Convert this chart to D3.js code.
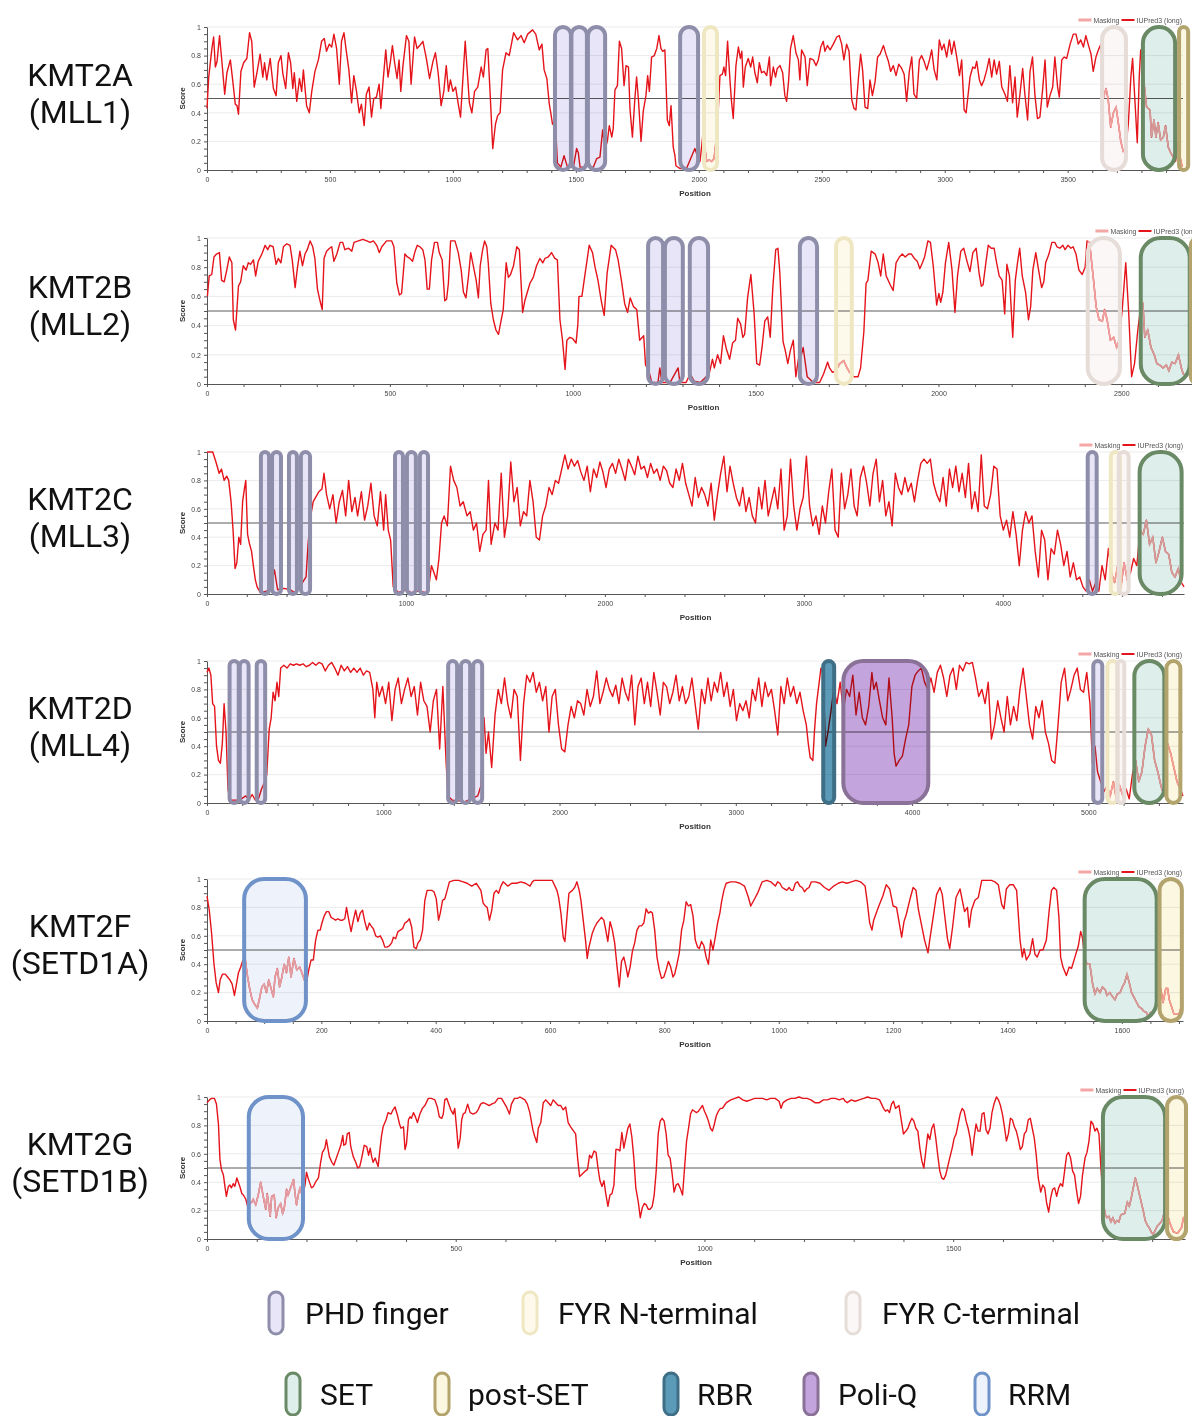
<!DOCTYPE html>
<html>
<head>
<meta charset="utf-8">
<script src="https://cdn.jsdelivr.net/npm/d3@7"></script>
<style>
  body { margin: 0; background: #fff; }
  svg { display: block; }
</style>
</head>
<body>
<div id="content"></div>
<script>
// IUPred3 (long) disorder scores, [position, score].
var kmt2aScore = [[0,.43],[7,.65],[20,.85],[27,.93],[34,.72],[41,.76],[51,.94],[61,.75],[72,.53],[81,.68],[95,.77],[105,.62],[115,.46],[122,.45],[128,.39],[138,.69],[149,.75],[162,.78],[173,.96],[182,.90],[192,.58],[203,.68],[216,.81],[227,.65],[234,.75],[243,.63],[257,.78],[270,.57],[281,.52],[290,.75],[301,.80],[308,.68],[320,.57],[331,.82],[340,.75],[349,.57],[355,.68],[365,.48],[376,.64],[385,.55],[392,.70],[405,.45],[416,.40],[426,.55],[439,.69],[453,.77],[466,.90],[477,.92],[486,.83],[497,.88],[507,.86],[516,.95],[527,.85],[538,.60],[547,.90],[557,.96],[565,.85],[577,.70],[588,.47],[597,.66],[608,.55],[619,.40],[628,.46],[639,.31],[648,.53],[659,.58],[669,.37],[678,.50],[689,.51],[700,.60],[707,.43],[716,.62],[727,.84],[736,.65],[746,.76],[754,.87],[763,.75],[773,.64],[781,.77],[788,.55],[797,.73],[811,.94],[821,.90],[830,.60],[844,.93],[854,.85],[865,.87],[878,.90],[892,.78],[905,.64],[919,.76],[929,.82],[940,.68],[952,.45],[963,.55],[973,.73],[982,.55],[990,.63],[1000,.55],[1011,.58],[1021,.47],[1031,.37],[1040,.62],[1050,.90],[1058,.70],[1067,.47],[1077,.40],[1088,.55],[1101,.58],[1115,.72],[1124,.65],[1135,.84],[1142,.85],[1151,.55],[1162,.15],[1173,.32],[1182,.38],[1192,.40],[1202,.70],[1216,.82],[1229,.80],[1247,.96],[1263,.91],[1277,.94],[1290,.89],[1304,.95],[1324,.98],[1337,.95],[1351,.84],[1362,.88],[1371,.70],[1382,.64],[1392,.46],[1398,.40],[1405,.32],[1416,.36],[1425,.05],[1439,.02],[1452,.10],[1466,.02],[1474,.02],[1490,.02],[1503,.15],[1510,.12],[1517,.02],[1537,.02],[1547,.12],[1558,.02],[1571,.02],[1585,.08],[1598,.09],[1609,.28],[1619,.15],[1628,.20],[1636,.31],[1646,.23],[1652,.29],[1659,.56],[1669,.59],[1677,.90],[1686,.85],[1696,.59],[1704,.73],[1714,.72],[1720,.43],[1730,.23],[1740,.50],[1747,.65],[1755,.48],[1765,.20],[1774,.41],[1785,.52],[1792,.66],[1799,.55],[1808,.79],[1819,.80],[1829,.85],[1838,.94],[1846,.85],[1853,.83],[1862,.84],[1872,.35],[1880,.31],[1887,.45],[1896,.16],[1903,.10],[1907,.03],[1924,.01],[1950,.01],[1984,.15],[1994,.10],[2005,.06],[2016,.24],[2025,.15],[2032,.06],[2043,.07],[2052,.06],[2062,.08],[2070,.20],[2078,.38],[2086,.66],[2096,.67],[2102,.72],[2109,.66],[2117,.90],[2127,.62],[2133,.48],[2140,.36],[2151,.73],[2161,.86],[2169,.78],[2175,.83],[2181,.58],[2189,.72],[2201,.78],[2211,.72],[2219,.79],[2228,.68],[2238,.61],[2246,.75],[2255,.68],[2265,.69],[2276,.66],[2287,.79],[2292,.59],[2303,.72],[2312,.65],[2319,.71],[2330,.73],[2341,.68],[2350,.52],[2357,.48],[2365,.62],[2373,.85],[2384,.94],[2395,.82],[2405,.77],[2411,.63],[2418,.84],[2432,.79],[2441,.59],[2452,.78],[2466,.77],[2477,.73],[2486,.77],[2496,.86],[2506,.90],[2513,.83],[2523,.87],[2534,.84],[2547,.88],[2561,.93],[2571,.94],[2581,.88],[2590,.77],[2601,.88],[2611,.83],[2622,.49],[2631,.43],[2639,.42],[2649,.64],[2658,.81],[2666,.70],[2676,.44],[2687,.43],[2696,.63],[2706,.52],[2717,.62],[2727,.79],[2737,.81],[2751,.87],[2761,.81],[2771,.76],[2780,.69],[2791,.73],[2802,.66],[2813,.74],[2825,.71],[2835,.67],[2845,.48],[2856,.69],[2866,.79],[2875,.53],[2886,.50],[2897,.77],[2906,.80],[2916,.76],[2927,.70],[2938,.77],[2947,.84],[2957,.70],[2968,.63],[2978,.91],[2988,.84],[2997,.88],[3008,.79],[3019,.91],[3028,.81],[3038,.90],[3049,.79],[3060,.66],[3069,.77],[3079,.42],[3087,.40],[3094,.51],[3103,.65],[3114,.72],[3123,.71],[3130,.76],[3141,.63],[3150,.59],[3160,.63],[3171,.70],[3181,.78],[3191,.65],[3201,.77],[3211,.67],[3222,.76],[3232,.58],[3245,.53],[3255,.48],[3265,.73],[3276,.47],[3286,.65],[3295,.37],[3306,.53],[3317,.71],[3326,.53],[3337,.35],[3347,.69],[3357,.79],[3367,.52],[3377,.36],[3387,.37],[3398,.56],[3408,.77],[3417,.44],[3428,.52],[3439,.58],[3448,.79],[3459,.58],[3466,.51],[3476,.77],[3486,.79],[3496,.78],[3510,.88],[3523,.95],[3534,.95],[3543,.88],[3553,.91],[3564,.86],[3574,.94],[3585,.87],[3595,.81],[3604,.69],[3615,.79],[3625,.84],[3635,.88],[3645,.50],[3656,.57],[3665,.49],[3675,.30],[3686,.40],[3697,.44],[3706,.33],[3716,.20],[3726,.13],[3737,.16],[3747,.33],[3757,.65],[3764,.78],[3774,.47],[3783,.19],[3791,.65],[3797,.84],[3808,.65],[3821,.44],[3835,.42],[3841,.23],[3851,.35],[3859,.23],[3868,.33],[3878,.21],[3889,.23],[3898,.31],[3909,.16],[3919,.12],[3930,.09],[3939,.06],[3947,.19],[3957,.09],[3966,.02]];

var kmt2bScore = [[1,.60],[6,.74],[13,.75],[19,.87],[26,.89],[34,.90],[40,.71],[47,.70],[54,.78],[61,.87],[68,.83],[72,.44],[78,.37],[86,.67],[92,.70],[99,.81],[107,.78],[113,.83],[119,.82],[127,.85],[133,.74],[140,.84],[150,.89],[159,.95],[166,.92],[172,.95],[181,.94],[189,.82],[195,.86],[202,.83],[209,.94],[218,.96],[227,.95],[233,.85],[241,.66],[247,.79],[254,.91],[261,.81],[268,.89],[274,.92],[282,.98],[289,.94],[295,.86],[302,.65],[309,.57],[315,.51],[320,.86],[327,.91],[335,.93],[341,.94],[347,.84],[355,.89],[364,.97],[371,.97],[377,.92],[387,.93],[396,.91],[402,.97],[414,.98],[426,.99],[437,.98],[446,.97],[455,.98],[464,.95],[471,.90],[478,.94],[491,.98],[505,.98],[511,.94],[519,.69],[526,.61],[532,.62],[541,.89],[548,.87],[555,.86],[562,.84],[569,.91],[575,.95],[582,.94],[590,.92],[596,.85],[602,.65],[608,.65],[614,.85],[622,.97],[630,.97],[635,.90],[643,.85],[650,.57],[655,.58],[660,.69],[666,.98],[678,.98],[687,.90],[695,.78],[701,.63],[708,.59],[715,.74],[721,.90],[728,.81],[736,.71],[742,.59],[747,.81],[753,.91],[759,.98],[765,.94],[769,.83],[776,.55],[783,.44],[790,.37],[797,.34],[803,.42],[810,.51],[818,.83],[824,.73],[830,.75],[838,.81],[847,.94],[854,.92],[863,.49],[869,.57],[876,.63],[883,.69],[892,.73],[901,.81],[910,.86],[918,.83],[924,.86],[933,.87],[942,.90],[951,.86],[958,.85],[965,.44],[972,.30],[979,.10],[984,.30],[992,.32],[1000,.31],[1009,.28],[1014,.41],[1017,.60],[1025,.60],[1034,.76],[1045,.95],[1054,.90],[1061,.80],[1069,.71],[1078,.57],[1086,.47],[1094,.76],[1105,.95],[1117,.92],[1124,.85],[1133,.71],[1142,.55],[1150,.49],[1157,.59],[1166,.53],[1175,.51],[1183,.30],[1194,.33],[1199,.13],[1208,.09],[1216,.01],[1233,.01],[1238,.11],[1244,.01],[1266,.01],[1288,.11],[1293,.01],[1310,.01],[1321,.07],[1332,.02],[1349,.01],[1365,.05],[1374,.08],[1382,.17],[1387,.11],[1396,.20],[1404,.14],[1412,.33],[1420,.24],[1429,.17],[1437,.28],[1445,.30],[1451,.45],[1459,.41],[1465,.32],[1470,.34],[1478,.59],[1487,.75],[1496,.48],[1503,.14],[1511,.13],[1518,.26],[1525,.43],[1533,.46],[1540,.32],[1547,.66],[1555,.92],[1561,.93],[1566,.77],[1575,.29],[1581,.23],[1588,.14],[1595,.23],[1603,.30],[1610,.05],[1617,.17],[1625,.20],[1630,.25],[1641,.05],[1658,.01],[1675,.01],[1686,.07],[1697,.15],[1702,.11],[1710,.08],[1719,.09],[1730,.14],[1741,.16],[1750,.11],[1757,.08],[1768,.05],[1780,.05],[1787,.11],[1796,.36],[1802,.69],[1807,.71],[1816,.91],[1827,.89],[1835,.83],[1842,.74],[1849,.89],[1857,.74],[1868,.68],[1876,.64],[1884,.83],[1893,.87],[1901,.89],[1909,.87],[1918,.89],[1926,.89],[1934,.86],[1942,.84],[1949,.79],[1956,.83],[1962,.87],[1971,.98],[1978,.97],[1986,.80],[1995,.54],[2001,.62],[2006,.56],[2012,.63],[2019,.83],[2028,.97],[2037,.78],[2045,.49],[2052,.74],[2061,.91],[2069,.93],[2078,.84],[2086,.77],[2094,.90],[2103,.93],[2111,.76],[2117,.67],[2122,.68],[2130,.84],[2136,.95],[2144,.93],[2152,.93],[2159,.83],[2166,.74],[2174,.71],[2181,.48],[2187,.82],[2194,.74],[2203,.32],[2210,.71],[2216,.83],[2222,.93],[2229,.74],[2238,.63],[2246,.44],[2252,.53],[2258,.78],[2266,.90],[2273,.79],[2282,.66],[2288,.70],[2293,.83],[2302,.89],[2310,.97],[2318,.97],[2324,.94],[2332,.93],[2340,.95],[2346,.92],[2354,.95],[2362,.93],[2368,.94],[2376,.89],[2384,.78],[2393,.75],[2401,.80],[2406,.98],[2413,.97],[2424,.71],[2431,.53],[2439,.44],[2448,.43],[2454,.51],[2461,.44],[2470,.30],[2479,.32],[2487,.25],[2494,.30],[2503,.53],[2512,.83],[2520,.49],[2528,.05],[2536,.14],[2545,.37],[2553,.53],[2559,.55],[2564,.32],[2572,.37],[2581,.25],[2590,.20],[2597,.14],[2605,.13],[2614,.11],[2623,.13],[2630,.09],[2638,.15],[2647,.14],[2656,.20],[2664,.11],[2669,.07],[2678,.05],[2686,.08],[2694,.02],[2700,.10],[2715,.05]];

var kmt2cScore = [[0,1.0],[29,1.0],[45,.93],[61,.85],[73,.88],[86,.80],[99,.83],[109,.80],[121,.65],[131,.45],[141,.18],[150,.22],[160,.40],[169,.35],[179,.65],[189,.75],[195,.80],[204,.42],[214,.35],[224,.30],[233,.20],[243,.10],[252,.05],[268,.01],[300,.02],[320,.05],[339,.17],[355,.03],[387,.04],[419,.03],[440,.01],[466,.05],[498,.12],[508,.35],[521,.55],[534,.65],[546,.68],[562,.72],[578,.74],[588,.85],[601,.70],[617,.60],[633,.70],[649,.50],[665,.65],[681,.73],[697,.55],[712,.80],[728,.58],[744,.68],[757,.55],[776,.72],[792,.52],[808,.62],[824,.78],[840,.55],[856,.48],[872,.72],[888,.45],[898,.70],[911,.45],[923,.38],[936,.05],[962,.01],[1000,.03],[1026,.01],[1060,.02],[1105,.01],[1115,.05],[1128,.20],[1141,.15],[1153,.10],[1166,.25],[1179,.50],[1192,.55],[1208,.48],[1224,.90],[1240,.80],[1256,.75],[1272,.62],[1288,.65],[1307,.55],[1323,.58],[1339,.45],[1355,.50],[1371,.30],[1387,.42],[1403,.45],[1415,.80],[1428,.35],[1447,.50],[1463,.45],[1479,.85],[1495,.40],[1511,.55],[1527,.93],[1543,.65],[1559,.75],[1575,.48],[1591,.58],[1607,.55],[1623,.80],[1639,.65],[1655,.40],[1671,.38],[1687,.55],[1703,.62],[1719,.75],[1735,.70],[1751,.80],[1767,.78],[1783,.88],[1799,.98],[1815,.88],[1831,.95],[1847,.90],[1863,.94],[1879,.86],[1895,.80],[1911,.90],[1927,.72],[1943,.88],[1959,.82],[1975,.93],[1990,.86],[2006,.75],[2022,.88],[2038,.92],[2054,.85],[2070,.95],[2086,.88],[2102,.80],[2118,.95],[2134,.90],[2150,.84],[2166,.97],[2182,.88],[2198,.90],[2214,.82],[2230,.92],[2246,.85],[2262,.88],[2278,.80],[2294,.90],[2310,.87],[2326,.78],[2342,.75],[2358,.88],[2374,.80],[2390,.92],[2406,.78],[2422,.70],[2438,.62],[2454,.82],[2470,.68],[2486,.75],[2502,.70],[2518,.62],[2534,.78],[2550,.52],[2566,.70],[2582,.85],[2598,.97],[2614,.72],[2629,.90],[2645,.78],[2661,.68],[2677,.62],[2693,.75],[2709,.58],[2725,.68],[2741,.55],[2757,.50],[2773,.75],[2789,.60],[2805,.80],[2821,.55],[2837,.65],[2853,.75],[2869,.60],[2885,.88],[2901,.45],[2917,.55],[2933,.95],[2949,.62],[2965,.45],[2981,.60],[2997,.68],[3013,.97],[3029,.62],[3045,.48],[3061,.55],[3077,.42],[3093,.62],[3109,.50],[3125,.72],[3141,.88],[3157,.45],[3173,.40],[3189,.85],[3205,.60],[3221,.70],[3237,.88],[3253,.62],[3268,.55],[3284,.82],[3300,.90],[3316,.78],[3332,.62],[3348,.85],[3364,.95],[3380,.65],[3396,.80],[3412,.55],[3428,.65],[3444,.48],[3460,.85],[3476,.75],[3492,.70],[3508,.82],[3524,.72],[3540,.78],[3556,.65],[3572,.80],[3588,.92],[3604,.95],[3620,.92],[3636,.95],[3652,.78],[3668,.70],[3684,.65],[3700,.82],[3716,.62],[3732,.88],[3748,.75],[3764,.90],[3780,.72],[3796,.85],[3812,.68],[3828,.92],[3844,.60],[3860,.72],[3876,.58],[3892,.98],[3907,.62],[3923,.60],[3939,.70],[3955,.90],[3971,.88],[3987,.55],[4003,.45],[4019,.52],[4035,.40],[4051,.58],[4067,.42],[4083,.20],[4099,.45],[4115,.58],[4131,.50],[4147,.55],[4163,.30],[4179,.12],[4195,.45],[4211,.38],[4227,.10],[4243,.32],[4259,.28],[4275,.45],[4291,.35],[4307,.20],[4323,.30],[4339,.12],[4355,.22],[4371,.10],[4387,.12],[4403,.05],[4419,.02],[4435,.10],[4451,.02],[4467,.08],[4483,.02],[4499,.20],[4515,.10],[4531,.32],[4546,.15],[4562,.08],[4578,.20],[4594,.05],[4610,.22],[4626,.10],[4642,.15],[4658,.25],[4674,.20],[4690,.45],[4706,.42],[4722,.52],[4738,.35],[4754,.40],[4770,.22],[4786,.30],[4802,.40],[4818,.30],[4834,.28],[4850,.15],[4866,.12],[4882,.18],[4898,.08],[4911,.05]];

var kmt2dScore = [[0,.92],[11,.95],[22,.90],[32,.70],[43,.68],[54,.40],[65,.30],[76,.28],[87,.42],[97,.70],[108,.50],[119,.10],[130,.02],[184,.02],[220,.05],[238,.02],[256,.06],[274,.02],[292,.03],[310,.10],[328,.15],[339,.20],[353,.52],[364,.60],[375,.78],[386,.72],[397,.85],[407,.75],[418,.95],[436,.97],[454,.95],[472,.98],[490,.97],[508,.98],[526,.97],[545,.98],[563,.96],[581,.97],[599,.99],[617,.97],[635,.99],[653,.98],[671,.93],[689,.97],[707,.99],[725,.95],[743,.90],[761,.97],[779,.93],[797,.96],[815,.92],[833,.95],[851,.92],[869,.95],[887,.90],[905,.93],[923,.92],[941,.80],[952,.60],[963,.85],[977,.75],[995,.82],[1013,.70],[1031,.85],[1049,.58],[1067,.80],[1085,.88],[1103,.70],[1121,.80],[1140,.88],[1158,.75],[1176,.82],[1194,.62],[1212,.85],[1230,.72],[1248,.68],[1266,.50],[1284,.72],[1302,.80],[1320,.38],[1338,.82],[1356,.30],[1367,.05],[1392,.02],[1464,.01],[1536,.05],[1554,.12],[1572,.60],[1583,.35],[1597,.50],[1615,.25],[1634,.62],[1652,.80],[1670,.70],[1688,.88],[1706,.70],[1724,.60],[1742,.80],[1760,.75],[1778,.30],[1796,.70],[1814,.90],[1832,.85],[1850,.92],[1868,.78],[1886,.85],[1904,.72],[1922,.82],[1940,.50],[1958,.75],[1976,.80],[1994,.55],[2012,.38],[2030,.36],[2048,.55],[2066,.68],[2084,.60],[2102,.72],[2120,.70],[2138,.62],[2156,.80],[2174,.68],[2192,.75],[2211,.93],[2229,.70],[2247,.78],[2265,.88],[2283,.80],[2301,.75],[2319,.83],[2337,.70],[2355,.88],[2373,.78],[2391,.72],[2409,.90],[2427,.55],[2445,.82],[2463,.88],[2481,.70],[2499,.85],[2517,.68],[2535,.92],[2553,.78],[2571,.62],[2589,.85],[2607,.82],[2625,.70],[2643,.78],[2661,.90],[2679,.72],[2697,.82],[2715,.70],[2733,.75],[2751,.88],[2769,.70],[2787,.52],[2806,.80],[2824,.70],[2842,.88],[2860,.72],[2878,.85],[2896,.78],[2914,.92],[2932,.75],[2950,.85],[2968,.68],[2986,.80],[3004,.58],[3022,.70],[3040,.65],[3058,.72],[3076,.60],[3094,.80],[3112,.72],[3130,.88],[3148,.68],[3166,.85],[3184,.75],[3202,.80],[3220,.65],[3238,.48],[3256,.82],[3274,.70],[3292,.88],[3310,.75],[3328,.82],[3346,.70],[3364,.78],[3382,.65],[3400,.55],[3411,.42],[3422,.32],[3437,.30],[3447,.52],[3458,.70],[3473,.85],[3483,.95],[3494,.92],[3509,.40],[3523,.50],[3537,.62],[3556,.80],[3574,.70],[3592,.85],[3610,.65],[3628,.80],[3646,.75],[3664,.90],[3682,.62],[3700,.78],[3718,.60],[3736,.55],[3754,.68],[3772,.92],[3783,.80],[3797,.85],[3815,.72],[3833,.60],[3851,.55],[3869,.88],[3887,.60],[3898,.35],[3909,.26],[3927,.30],[3945,.33],[3963,.45],[3981,.55],[3999,.82],[4017,.90],[4035,.93],[4053,.95],[4071,.85],[4089,.80],[4107,.88],[4125,.78],[4143,.92],[4161,.97],[4179,.88],[4197,.75],[4215,.90],[4233,.95],[4251,.80],[4269,.97],[4288,.93],[4306,.99],[4324,.98],[4342,.99],[4360,.88],[4378,.75],[4396,.80],[4414,.70],[4432,.85],[4450,.45],[4468,.55],[4486,.72],[4504,.60],[4522,.50],[4540,.75],[4558,.55],[4576,.68],[4594,.58],[4612,.80],[4630,.95],[4648,.75],[4666,.55],[4684,.45],[4702,.68],[4720,.60],[4738,.72],[4756,.50],[4774,.42],[4792,.30],[4810,.28],[4828,.55],[4846,.85],[4865,.95],[4883,.72],[4901,.80],[4919,.90],[4937,.95],[4955,.80],[4973,.78],[4991,.92],[5009,.70],[5023,.28],[5038,.40],[5052,.22],[5070,.15],[5088,.08],[5106,.12],[5124,.05],[5142,.15],[5160,.02],[5178,.12],[5196,.05],[5214,.10],[5232,.03],[5250,.20],[5268,.30],[5286,.15],[5304,.22],[5322,.40],[5340,.52],[5358,.48],[5376,.30],[5394,.22],[5412,.12],[5430,.05],[5449,.42],[5467,.35],[5485,.25],[5503,.15],[5521,.10],[5537,.05]];

var setd1aScore = [[0,.88],[4,.78],[8,.62],[12,.41],[16,.27],[20,.20],[23,.29],[27,.33],[32,.33],[36,.31],[40,.29],[44,.26],[48,.18],[52,.27],[55,.34],[59,.38],[63,.43],[67,.43],[71,.31],[75,.22],[79,.15],[83,.12],[88,.09],[92,.16],[96,.24],[100,.26],[104,.20],[108,.29],[112,.23],[116,.17],[119,.31],[123,.37],[127,.24],[131,.31],[135,.40],[139,.34],[143,.45],[147,.31],[152,.44],[157,.36],[162,.38],[166,.34],[170,.29],[174,.27],[178,.36],[182,.43],[186,.43],[190,.57],[194,.64],[198,.64],[201,.69],[205,.74],[209,.77],[213,.77],[217,.73],[221,.72],[225,.71],[229,.72],[233,.71],[237,.71],[241,.72],[244,.80],[248,.71],[252,.63],[256,.71],[260,.78],[264,.70],[268,.76],[272,.78],[276,.70],[280,.64],[284,.69],[287,.67],[291,.65],[295,.60],[299,.59],[303,.60],[307,.57],[311,.52],[315,.52],[319,.53],[323,.55],[326,.59],[330,.58],[334,.63],[338,.64],[342,.65],[346,.69],[350,.70],[354,.72],[358,.66],[362,.52],[366,.51],[369,.55],[373,.57],[377,.64],[381,.85],[385,.92],[393,.92],[397,.91],[401,.86],[405,.71],[408,.76],[412,.85],[416,.86],[420,.92],[424,.98],[432,.99],[440,.99],[448,.98],[455,.97],[463,.95],[471,.97],[479,.92],[483,.83],[487,.81],[490,.80],[494,.71],[498,.78],[502,.90],[506,.92],[510,.90],[514,.95],[518,.98],[526,.95],[533,.97],[541,.97],[549,.98],[557,.97],[565,.95],[569,.98],[572,.99],[580,.99],[588,.99],[596,.99],[604,.99],[612,.92],[615,.87],[619,.76],[623,.59],[626,.56],[629,.71],[633,.90],[639,.92],[643,.94],[647,.98],[651,.92],[654,.85],[658,.71],[662,.57],[665,.44],[668,.52],[671,.57],[674,.62],[678,.66],[682,.69],[686,.71],[690,.73],[694,.71],[697,.65],[701,.56],[705,.70],[709,.64],[713,.55],[717,.39],[721,.24],[725,.42],[729,.45],[733,.38],[736,.31],[740,.38],[744,.49],[748,.55],[752,.64],[756,.67],[760,.67],[764,.69],[768,.79],[772,.76],[776,.77],[779,.76],[783,.64],[787,.45],[791,.36],[795,.30],[799,.31],[803,.36],[807,.42],[811,.38],[815,.31],[818,.33],[822,.40],[826,.48],[830,.64],[834,.71],[838,.84],[842,.81],[846,.82],[850,.74],[854,.57],[858,.52],[861,.51],[865,.56],[869,.53],[873,.45],[877,.40],[881,.57],[885,.50],[889,.59],[893,.69],[897,.76],[900,.84],[904,.92],[908,.97],[916,.98],[924,.98],[932,.97],[940,.95],[947,.87],[951,.81],[955,.84],[959,.87],[963,.90],[967,.94],[971,.98],[979,.99],[986,.98],[994,.95],[998,.98],[1002,.97],[1006,.94],[1010,.93],[1014,.92],[1018,.94],[1022,.92],[1025,.92],[1029,.97],[1033,.98],[1037,.95],[1041,.94],[1045,.91],[1049,.93],[1053,.94],[1057,.98],[1064,.98],[1072,.97],[1080,.94],[1088,.92],[1096,.95],[1104,.97],[1111,.98],[1119,.97],[1127,.98],[1135,.99],[1143,.98],[1151,.95],[1155,.83],[1159,.69],[1163,.64],[1166,.71],[1174,.80],[1182,.88],[1188,.96],[1194,.93],[1200,.81],[1206,.80],[1212,.66],[1215,.59],[1219,.70],[1223,.75],[1229,.85],[1235,.94],[1240,.92],[1244,.79],[1250,.67],[1255,.57],[1261,.48],[1264,.57],[1270,.73],[1276,.89],[1282,.94],[1286,.89],[1290,.75],[1295,.58],[1299,.51],[1304,.66],[1310,.87],[1317,.93],[1321,.85],[1325,.77],[1330,.80],[1333,.66],[1337,.78],[1343,.85],[1349,.87],[1355,.99],[1363,.99],[1372,.99],[1378,.98],[1384,.96],[1390,.82],[1394,.79],[1398,.93],[1404,.96],[1410,.96],[1416,.92],[1422,.57],[1426,.45],[1429,.51],[1433,.43],[1439,.47],[1444,.58],[1448,.47],[1452,.45],[1457,.50],[1462,.50],[1468,.57],[1473,.78],[1477,.92],[1481,.94],[1486,.92],[1490,.73],[1493,.45],[1497,.38],[1503,.32],[1508,.38],[1512,.37],[1518,.45],[1524,.53],[1528,.63],[1531,.59],[1535,.45],[1539,.40],[1544,.40],[1549,.26],[1553,.19],[1557,.23],[1562,.20],[1566,.24],[1571,.22],[1574,.18],[1579,.20],[1584,.17],[1588,.15],[1592,.19],[1597,.20],[1601,.24],[1605,.27],[1609,.33],[1613,.27],[1617,.20],[1621,.17],[1626,.13],[1630,.10],[1634,.09],[1638,.07],[1643,.06],[1646,.03],[1650,.06],[1655,.06],[1659,.10],[1664,.15],[1668,.23],[1672,.13],[1677,.23],[1680,.23],[1683,.15],[1687,.10],[1691,.05],[1696,.05],[1700,.05],[1704,.10],[1707,.12]];

var setd1bScore = [[0,.96],[5,.98],[9,.99],[15,.99],[19,.95],[23,.81],[26,.56],[29,.49],[33,.45],[36,.37],[39,.30],[43,.37],[46,.38],[49,.36],[53,.39],[56,.37],[60,.43],[63,.40],[66,.37],[70,.32],[73,.31],[78,.28],[83,.21],[86,.25],[90,.26],[93,.28],[98,.24],[103,.31],[108,.40],[113,.30],[118,.21],[121,.32],[127,.16],[130,.30],[135,.31],[139,.15],[143,.22],[148,.25],[152,.18],[155,.21],[160,.35],[163,.31],[168,.36],[174,.42],[177,.32],[180,.24],[184,.32],[187,.36],[192,.30],[197,.38],[200,.47],[204,.42],[207,.39],[210,.36],[214,.37],[218,.40],[224,.43],[228,.53],[232,.61],[237,.64],[240,.70],[246,.58],[251,.54],[255,.52],[259,.56],[264,.61],[269,.66],[273,.73],[275,.66],[279,.67],[282,.74],[286,.75],[289,.65],[294,.58],[299,.54],[303,.50],[307,.51],[311,.57],[316,.66],[321,.65],[325,.59],[328,.64],[331,.58],[334,.54],[338,.57],[341,.54],[344,.51],[348,.64],[351,.73],[354,.79],[360,.84],[364,.89],[370,.88],[374,.91],[378,.93],[383,.87],[387,.81],[390,.78],[395,.79],[398,.63],[401,.67],[405,.84],[408,.86],[411,.85],[415,.89],[419,.86],[423,.82],[428,.88],[433,.92],[438,.94],[445,.99],[451,.99],[458,.98],[463,.93],[467,.86],[472,.85],[475,.88],[478,.98],[482,.99],[486,.95],[490,.91],[495,.88],[498,.92],[502,.77],[505,.64],[509,.71],[512,.84],[515,.88],[519,.89],[524,.95],[529,.89],[535,.88],[541,.89],[545,.91],[550,.95],[555,.96],[562,.95],[567,.94],[572,.95],[579,.96],[585,.99],[592,.99],[597,.96],[602,.93],[608,.88],[612,.95],[618,.99],[624,.99],[629,1.0],[634,.99],[639,.98],[644,.95],[649,.89],[655,.77],[659,.72],[663,.68],[666,.78],[671,.82],[676,.96],[681,.98],[686,.96],[691,.94],[696,.98],[701,.96],[706,.94],[711,.94],[716,.91],[721,.93],[726,.82],[731,.79],[737,.76],[741,.74],[745,.57],[749,.44],[755,.46],[761,.48],[765,.49],[769,.59],[773,.57],[778,.62],[782,.61],[786,.50],[790,.41],[794,.37],[798,.41],[802,.31],[806,.23],[810,.31],[814,.32],[818,.38],[822,.63],[826,.63],[830,.62],[834,.75],[838,.64],[842,.71],[846,.78],[850,.81],[854,.72],[858,.57],[862,.36],[867,.26],[871,.15],[875,.22],[879,.25],[883,.24],[887,.21],[891,.21],[895,.23],[899,.31],[903,.48],[907,.74],[911,.83],[915,.85],[919,.83],[923,.74],[927,.59],[931,.57],[935,.46],[939,.33],[943,.38],[947,.39],[951,.36],[956,.31],[960,.50],[964,.69],[968,.78],[972,.88],[976,.91],[980,.90],[984,.89],[988,.90],[992,.92],[996,.94],[1000,.90],[1004,.87],[1008,.83],[1012,.78],[1016,.76],[1020,.81],[1024,.87],[1028,.90],[1032,.92],[1036,.92],[1040,.94],[1044,.96],[1053,.98],[1061,.99],[1069,1.0],[1077,.98],[1085,.97],[1093,.98],[1101,.99],[1109,.99],[1117,.99],[1125,.98],[1133,.99],[1142,.99],[1150,.97],[1154,.92],[1158,.96],[1166,.98],[1174,.99],[1182,.99],[1190,1.0],[1198,.99],[1206,.99],[1214,.98],[1222,.96],[1231,.96],[1239,.98],[1247,.98],[1255,.99],[1263,.99],[1271,.98],[1279,.99],[1283,.97],[1287,.96],[1295,.98],[1303,.97],[1311,.98],[1320,.99],[1328,1.0],[1336,.99],[1344,.99],[1352,.98],[1360,.92],[1364,.90],[1368,.91],[1372,.89],[1376,.95],[1380,.97],[1384,.92],[1391,.94],[1396,.83],[1400,.74],[1405,.76],[1409,.78],[1413,.82],[1417,.85],[1421,.83],[1425,.78],[1429,.76],[1433,.64],[1437,.55],[1441,.50],[1445,.62],[1449,.74],[1453,.70],[1457,.78],[1461,.81],[1465,.71],[1469,.59],[1473,.48],[1477,.43],[1481,.42],[1485,.45],[1489,.51],[1493,.57],[1498,.64],[1502,.71],[1506,.74],[1510,.81],[1514,.88],[1518,.92],[1522,.90],[1526,.83],[1530,.78],[1534,.71],[1538,.59],[1542,.71],[1546,.81],[1550,.76],[1554,.76],[1558,.88],[1562,.89],[1566,.77],[1570,.74],[1574,.78],[1578,.89],[1582,.95],[1587,1.0],[1591,.98],[1595,.94],[1599,.88],[1603,.79],[1607,.69],[1611,.74],[1615,.85],[1619,.84],[1623,.79],[1627,.76],[1631,.70],[1635,.63],[1639,.65],[1643,.74],[1647,.76],[1651,.84],[1655,.85],[1659,.78],[1663,.71],[1667,.59],[1671,.43],[1676,.33],[1680,.38],[1684,.36],[1688,.25],[1692,.19],[1696,.29],[1700,.35],[1704,.36],[1708,.30],[1712,.36],[1716,.39],[1720,.37],[1724,.48],[1728,.59],[1732,.61],[1736,.57],[1740,.48],[1744,.45],[1748,.34],[1752,.25],[1756,.30],[1760,.45],[1765,.57],[1769,.61],[1773,.69],[1777,.83],[1781,.81],[1785,.76],[1789,.78],[1793,.74],[1797,.50],[1801,.29],[1805,.18],[1809,.15],[1813,.16],[1817,.12],[1821,.15],[1825,.11],[1829,.13],[1833,.12],[1837,.17],[1845,.18],[1850,.26],[1854,.23],[1858,.29],[1862,.36],[1866,.43],[1870,.38],[1874,.32],[1878,.26],[1882,.20],[1886,.13],[1890,.10],[1894,.08],[1898,.05],[1902,.03],[1906,.06],[1910,.09],[1918,.12],[1922,.15],[1926,.23],[1930,.18],[1935,.12],[1939,.08],[1943,.05],[1951,.04],[1959,.08],[1963,.15],[1966,.14]];

// Domains: [type, start, end] in residue positions.
var kmt2aDomains = [['PHD',1415,1480],['PHD',1482,1545],['PHD',1549,1619],['PHD',1924,1997],['FYRN',2021,2074],['FYRC',3640,3737],['SET',3806,3937],['POST',3953,3990]];
var kmt2bDomains = [['PHD',1206,1247],['PHD',1252,1301],['PHD',1320,1370],['PHD',1621,1668],['FYRN',1720,1763],['FYRC',2408,2496],['SET',2553,2687],['POST',2690,2730]];
var kmt2cDomains = [['PHD',271,312],['PHD',327,372],['PHD',412,452],['PHD',472,518],['PHD',945,985],['PHD',1005,1050],['PHD',1070,1111],['PHD',4427,4472],['FYRN',4543,4588],['FYRC',4583,4633],['SET',4688,4899]];
var kmt2dDomains = [['PHD',128,180],['PHD',186,236],['PHD',282,330],['PHD',1368,1419],['PHD',1441,1493],['PHD',1510,1561],['RBR',3496,3558],['POLIQ',3610,4092],['PHD',5028,5079],['FYRN',5108,5165],['FYRC',5165,5204],['SET',5261,5431],['POST',5443,5522]];
var setd1aDomains = [['RRM',65,173],['SET',1535,1661],['POST',1666,1705]];
var setd1bDomains = [['RRM',84,193],['SET',1801,1926],['POST',1930,1968]];

var proteinNames = ['KMT2A','KMT2B','KMT2C','KMT2D','KMT2F','KMT2G'];
var proteinAliases = ['(MLL1)','(MLL2)','(MLL3)','(MLL4)','(SETD1A)','(SETD1B)'];
var proteinLengths = [3969, 2715, 4911, 5537, 1707, 1966];

var legendRow1 = [['PHD','PHD finger'],['FYRN','FYR N-terminal'],['FYRC','FYR C-terminal']];
var legendRow2 = [['SET','SET'],['POST','post-SET'],['RBR','RBR'],['POLIQ','Poli-Q'],['RRM','RRM']];

// Styles.
var domainStyle = {
  PHD:   {stroke: '#8f8eaa', fill: '#e7e5f7', masked: false},
  FYRN:  {stroke: '#efe6c2', fill: '#fdfaec', masked: true},
  FYRC:  {stroke: '#e6dcd8', fill: '#faf7f6', masked: true},
  SET:   {stroke: '#6a8a66', fill: '#deeeea', masked: true},
  POST:  {stroke: '#b3a36c', fill: '#fcf7e0', masked: true},
  RBR:   {stroke: '#3f6f86', fill: '#5b9bb7', masked: false},
  POLIQ: {stroke: '#8a7198', fill: '#c4a4dd', masked: false},
  RRM:   {stroke: '#6f93c8', fill: '#eef3fb', masked: true}
};
var redLine = '#e5141b';
var maskLine = '#f4a6a6';

// Layout of each panel.
var layout = [
  {top: 27,   bottom: 170,  right: 1183, major: 500,  minor: 100},
  {top: 238,  bottom: 384,  right: 1200, major: 500,  minor: 100},
  {top: 452,  bottom: 594,  right: 1184, major: 1000, minor: 200},
  {top: 661,  bottom: 803,  right: 1183, major: 1000, minor: 200},
  {top: 879,  bottom: 1021, right: 1183, major: 200,  minor: 50},
  {top: 1097, bottom: 1239, right: 1185, major: 500,  minor: 100}
];
var scores = [kmt2aScore, kmt2bScore, kmt2cScore, kmt2dScore, setd1aScore, setd1bScore];
var domains = [kmt2aDomains, kmt2bDomains, kmt2cDomains, kmt2dDomains, setd1aDomains, setd1bDomains];

var svg = d3.select('#content').append('svg')
    .attr('width', 1192).attr('height', 1416);
var defs = svg.append('defs');
var tickFont = 'Liberation Sans, Arial, sans-serif';

layout.forEach(function(L, i) {
  var len = proteinLengths[i];
  var x = d3.scaleLinear().domain([0, len]).range([207, L.right]);
  var y = d3.scaleLinear().domain([0, 1]).range([L.bottom, L.top]);
  var g = svg.append('g');

  // Row label.
  var mid = (L.top + L.bottom) / 2;
  g.append('text').attr('x', 80).attr('y', mid - 13)
      .attr('text-anchor', 'middle').attr('font-family', 'Roboto')
      .attr('font-size', 32).attr('fill', '#111').text(proteinNames[i]);
  g.append('text').attr('x', 80).attr('y', mid + 24)
      .attr('text-anchor', 'middle').attr('font-family', 'Roboto')
      .attr('font-size', 32).attr('fill', '#111').text(proteinAliases[i]);

  // Gridlines.
  g.selectAll('.grid').data([0.2, 0.4, 0.6, 0.8, 1]).enter().append('line')
      .attr('x1', 207).attr('x2', L.right)
      .attr('y1', function(d) { return y(d); }).attr('y2', function(d) { return y(d); })
      .attr('stroke', '#ebebeb').attr('stroke-width', 1);
  g.append('line').attr('x1', 207).attr('x2', L.right)
      .attr('y1', y(0.5)).attr('y2', y(0.5))
      .attr('stroke', '#5a5a5a').attr('stroke-width', 1);

  // Axes.
  var xAxis = d3.axisBottom(x)
      .tickValues(d3.range(0, len + 1, L.minor))
      .tickFormat(function(d) { return d % L.major === 0 ? d : ''; })
      .tickSize(3).tickSizeOuter(0);
  var gx = g.append('g').attr('transform', 'translate(0,' + L.bottom + ')').call(xAxis);
  var yAxis = d3.axisLeft(y)
      .tickValues(d3.range(0, 1.0001, 0.05))
      .tickFormat(function(d) {
        var r = Math.round(d * 100);
        return r % 20 === 0 ? d3.format('~g')(r / 100) : '';
      })
      .tickSize(3).tickSizeOuter(0);
  var gy = g.append('g').attr('transform', 'translate(207,0)').call(yAxis);
  [gx, gy].forEach(function(a) {
    a.select('.domain').attr('stroke', '#555');
    a.selectAll('.tick line').attr('stroke', '#555');
    a.selectAll('.tick text').attr('font-family', tickFont)
        .attr('font-size', 7).attr('fill', '#444');
  });
  gx.selectAll('.tick text').attr('dy', '0.9em');

  g.append('text')
      .attr('transform', 'translate(185,' + mid + ') rotate(-90)')
      .attr('text-anchor', 'middle').attr('font-family', tickFont)
      .attr('font-size', 8).attr('font-weight', 'bold').attr('fill', '#333')
      .text('Score');
  g.append('text').attr('x', (207 + L.right) / 2).attr('y', L.bottom + 26)
      .attr('text-anchor', 'middle').attr('font-family', tickFont)
      .attr('font-size', 8).attr('font-weight', 'bold').attr('fill', '#333')
      .text('Position');

  // Score line.
  var line = d3.line()
      .x(function(d) { return x(d[0]); })
      .y(function(d) { return y(d[1]); });
  g.append('path').datum(scores[i]).attr('d', line)
      .attr('fill', 'none').attr('stroke', redLine).attr('stroke-width', 1.4)
      .attr('stroke-linejoin', 'round');

  // Masked stretches drawn in the lighter colour.
  var clip = defs.append('clipPath').attr('id', 'mask' + i);
  domains[i].filter(function(d) { return domainStyle[d[0]].masked; })
      .forEach(function(d) {
        clip.append('rect').attr('x', x(d[1])).attr('y', L.top - 5)
            .attr('width', x(d[2]) - x(d[1])).attr('height', L.bottom - L.top + 10);
      });
  g.append('path').datum(scores[i]).attr('d', line)
      .attr('clip-path', 'url(#mask' + i + ')')
      .attr('fill', 'none').attr('stroke', maskLine).attr('stroke-width', 1.7);

  // Domain boxes.
  var boxes = g.selectAll('.box').data(domains[i]).enter().append('g');
  function boxAttrs(sel) {
    sel.attr('x', function(d) { return x(d[1]); })
        .attr('y', L.top)
        .attr('width', function(d) { return x(d[2]) - x(d[1]); })
        .attr('height', L.bottom - L.top)
        .attr('rx', function(d) { return Math.min((x(d[2]) - x(d[1])) / 2, 20); })
        .attr('ry', function(d) { return Math.min((x(d[2]) - x(d[1])) / 2, 20); });
  }
  boxes.append('rect').call(boxAttrs)
      .attr('fill', function(d) { return domainStyle[d[0]].fill; })
      .style('mix-blend-mode', 'multiply');
  boxes.append('rect').call(boxAttrs)
      .attr('fill', 'none')
      .attr('stroke', function(d) { return domainStyle[d[0]].stroke; })
      .attr('stroke-width', 4);

  // Small series legend at top right.
  var lg = g.append('g').attr('font-family', tickFont).attr('font-size', 7).attr('fill', '#555');
  var ly = L.top - 7;
  var t2 = lg.append('text').attr('x', L.right - 1).attr('y', ly + 2.5)
      .attr('text-anchor', 'end').text('IUPred3 (long)');
  var w2 = t2.node().getComputedTextLength();
  var sx2 = L.right - 1 - w2 - 15;
  lg.append('line').attr('x1', sx2).attr('x2', sx2 + 13).attr('y1', ly).attr('y2', ly)
      .attr('stroke', redLine).attr('stroke-width', 2);
  var t1 = lg.append('text').attr('x', sx2 - 2).attr('y', ly + 2.5)
      .attr('text-anchor', 'end').text('Masking');
  var w1 = t1.node().getComputedTextLength();
  var sx1 = sx2 - 2 - w1 - 15;
  lg.append('line').attr('x1', sx1).attr('x2', sx1 + 13).attr('y1', ly).attr('y2', ly)
      .attr('stroke', maskLine).attr('stroke-width', 3);
});

// Bottom domain legend.
var legendPos1 = [[276, 305], [530, 558], [853, 882]];
var legendPos2 = [[293, 320], [442, 468], [671, 697], [811, 838], [982, 1008]];
function drawLegend(items, pos, cy) {
  items.forEach(function(it, k) {
    var st = domainStyle[it[0]];
    svg.append('rect').attr('x', pos[k][0] - 7).attr('y', cy - 21)
        .attr('width', 14).attr('height', 42).attr('rx', 7).attr('ry', 7)
        .attr('fill', st.fill).attr('stroke', st.stroke).attr('stroke-width', 3);
    svg.append('text').attr('x', pos[k][1]).attr('y', cy + 11)
        .attr('font-family', 'Roboto').attr('font-size', 30).attr('fill', '#111')
        .text(it[1]);
  });
}
drawLegend(legendRow1, legendPos1, 1313);
drawLegend(legendRow2, legendPos2, 1394);
</script>
</body>
</html>
